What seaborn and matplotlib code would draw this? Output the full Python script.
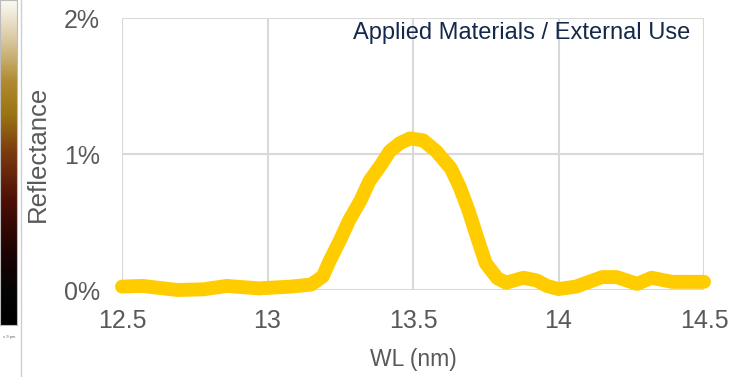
import numpy as np
import pandas as pd
import matplotlib
matplotlib.use("Agg")
import matplotlib.pyplot as plt
from matplotlib.colors import LinearSegmentedColormap
import seaborn as sns

# Data (wavelength in nm, reflectance in %)
wl = [12.50, 12.57, 12.69, 12.78, 12.86, 12.97, 13.08, 13.15, 13.19, 13.215,
      13.25, 13.28, 13.32, 13.35, 13.39, 13.42, 13.455, 13.49, 13.535, 13.58,
      13.63, 13.66, 13.69, 13.72, 13.75, 13.79, 13.82, 13.88, 13.925, 13.96,
      14.00, 14.06, 14.15, 14.20, 14.27, 14.32, 14.39, 14.46, 14.50]
refl = [0.025, 0.03, 0.0, 0.005, 0.03, 0.012, 0.025, 0.04, 0.10, 0.22,
        0.37, 0.51, 0.66, 0.80, 0.92, 1.02, 1.08, 1.115, 1.10, 1.02,
        0.895, 0.76, 0.59, 0.39, 0.196, 0.086, 0.054, 0.09, 0.07, 0.03,
        0.007, 0.025, 0.095, 0.095, 0.045, 0.09, 0.06, 0.06, 0.06]
xticks = [12.5, 13, 13.5, 14, 14.5]
xtick_labels = ["12.5", "13", "13.5", "14", "14.5"]
yticks = [0, 1, 2]
ytick_labels = ["0%", "1%", "2%"]

df = pd.DataFrame({"WL (nm)": wl, "Reflectance": refl})

sns.set_theme(style="white")
plt.rcParams["font.family"] = ["Liberation Sans", "DejaVu Sans"]

W, H = 740, 377
fig = plt.figure(figsize=(W / 100, H / 100), dpi=100)

# left colour-bar strip (decoration)
cb_ax = fig.add_axes([0, (H - 325) / H, 17 / W, 325 / H])
cmap = LinearSegmentedColormap.from_list(
    "strip",
    [(0.0, "#fbfaf5"), (0.12, "#d9c9a0"), (0.25, "#b08a30"), (0.35, "#9c7414"),
     (0.47, "#7a3a10"), (0.62, "#4c0e06"), (0.78, "#1c0303"), (0.9, "#050505"), (1.0, "#000000")])
grad = np.linspace(0, 1, 256).reshape(-1, 1)
cb_ax.imshow(grad, aspect="auto", cmap=cmap)
cb_ax.set_xticks([]); cb_ax.set_yticks([])
for s in cb_ax.spines.values():
    s.set_color("#bbbbbb"); s.set_linewidth(0.8)
fig.text(9 / W, 1 - 337 / H, "s 9 pm", fontsize=3, color="#666666", ha="center", va="center")
fig.add_artist(plt.Line2D([20.5 / W, 20.5 / W], [0, 1], color="#cfcfcf", lw=1.0))

AX_L, AX_R, AX_T, AX_B = 122, 704, 18, 290
ax = fig.add_axes([AX_L / W, (H - AX_B) / H, (AX_R - AX_L) / W, (AX_B - AX_T) / H])
sns.lineplot(data=df, x="WL (nm)", y="Reflectance", ax=ax, color="#FFCC00",
             linewidth=10, solid_capstyle="round", solid_joinstyle="round", clip_on=False)
ax.set_xlim(12.5, 14.5)
ax.set_ylim(0, 2)
ax.set_xticks(xticks)
ax.set_xticklabels(xtick_labels)
ax.set_yticks(yticks)
ax.set_yticklabels(ytick_labels)
ax.grid(True, color="#d9d9d9", linewidth=1.5)
ax.set_axisbelow(True)
for s in ax.spines.values():
    s.set_visible(False)
ax.tick_params(axis="both", length=0, labelsize=18, labelcolor="#595959")
ax.tick_params(axis="x", pad=14)
ax.tick_params(axis="y", pad=16)
ax.set_xlabel("WL (nm)", fontsize=16.5, color="#595959")
ax.xaxis.set_label_coords(0.5, -(348 - AX_B) / (AX_B - AX_T))
ax.set_ylabel("Reflectance", fontsize=18.5, color="#595959")
ax.yaxis.set_label_coords(-(AX_L - 50) / (AX_R - AX_L), 0.5)
ax.text(1 - (AX_R - 690) / (AX_R - AX_L), 1 - (33 - AX_T) / (AX_B - AX_T),
        "Applied Materials / External Use", transform=ax.transAxes,
        ha="right", va="center", fontsize=17, color="#14284b")

fig.savefig("out.png", dpi=100)
